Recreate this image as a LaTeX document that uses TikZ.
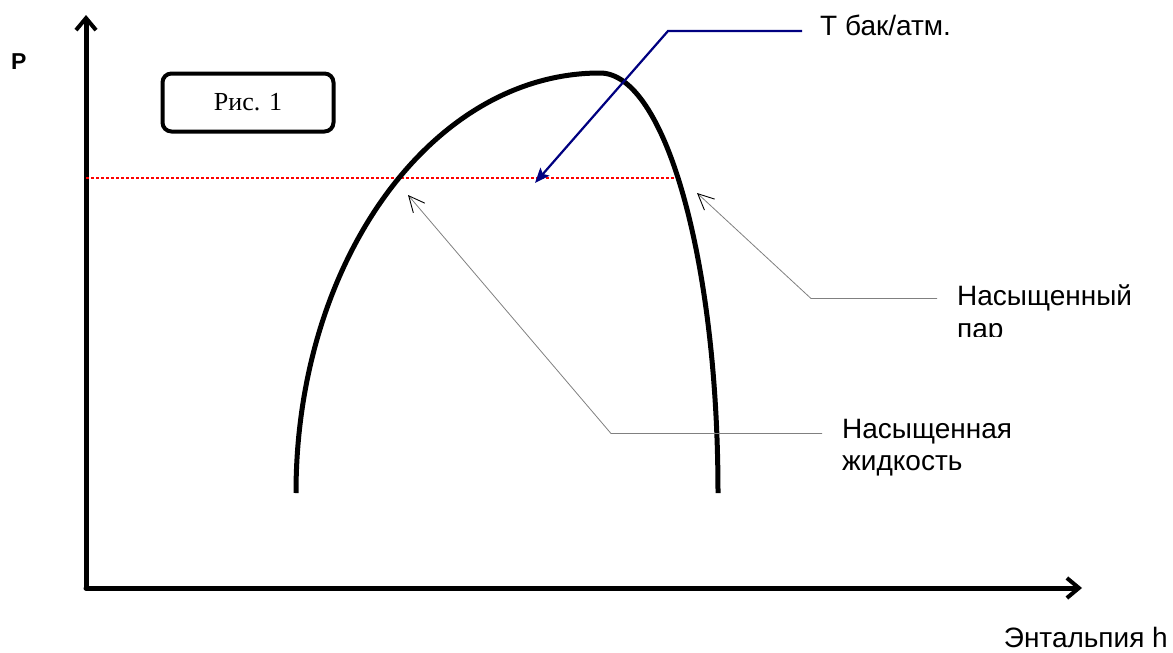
\documentclass[tikz,border=0pt]{standalone}
\usepackage{fontspec}
\setmainfont{Liberation Serif}
\setsansfont{Liberation Sans}
\usetikzlibrary{arrows.meta}
\definecolor{navyline}{RGB}{0,0,128}
\tikzset{
  axis/.style={line width=5pt, line cap=round, -{Straight Barb[length=12pt,width=20pt,line width=4pt]}},
  curve/.style={line width=5pt},
  level/.style={red, line width=2.5pt, dash pattern=on 2.5pt off 2.5pt},
  bluecall/.style={navyline, line width=2.2pt, -{Stealth[length=15pt,width=12pt,inset=3pt]}},
  graycall/.style={gray, line width=0.8pt, -{Straight Barb[length=16pt,width=15pt,line width=0.9pt,black]}},
  lbl/.style={font=\fontsize{28}{32}\selectfont\sffamily, inner sep=0pt, anchor=base west},
}
\begin{document}
\begin{tikzpicture}[x=1pt,y=-1pt]
\useasboundingbox (0,0) rectangle (1173,653);
% axes
\coordinate (O) at (86,588);
\coordinate (ytop) at (86,15);
\coordinate (xend) at (1082,588);
\draw[axis] (O) -- (ytop);
\draw[axis] (O) -- (xend);
\node[font=\fontsize{23}{27}\selectfont\sffamily\bfseries, inner sep=0pt, anchor=base west] (P) at (11,69) {P};
\node[lbl, anchor=base east] (H) at (1168,647) {Энтальпия h};
% figure box
\node[draw, line width=4pt, rounded corners=9pt, minimum width=171pt, minimum height=58pt,
      font=\fontsize{26}{30}\selectfont] (fig) at (248,102.5) {Рис. 1};
% dotted level
\coordinate (L1) at (86,178);
\coordinate (L2) at (680,178);
\draw[level] (L1) -- (L2);
% saturation curve
\coordinate (cl) at (296,493);
\draw[curve] (cl) arc[start angle=180, end angle=270, x radius=304, y radius=420]
  arc[start angle=270, end angle=360, x radius=118, y radius=420];
% T label
\node[lbl] (T) at (820,35) {Т бак/атм.};
\coordinate (Ts) at (802,31);
\coordinate (Tb) at (668,31);
\coordinate (Tt) at (535,183);
\draw[bluecall] (Ts) -- (Tb) -- (Tt);
% vapour
\node[lbl] (V) at (957,305) {Насыщенный};
\begin{scope}
\clip (900,312) rectangle (1173,336.5);
\node[lbl] (V2) at (957,338) {пар};
\end{scope}
\coordinate (Vs) at (937,298.5);
\coordinate (Vb) at (811,298.5);
\coordinate (Vt) at (697,193);
\draw[graycall] (Vs) -- (Vb) -- (Vt);
% liquid
\node[lbl] (Lq) at (842,438) {Насыщенная};
\node[lbl] (Lq2) at (842,470) {жидкость};
\coordinate (Ls) at (822,433.5);
\coordinate (Lb) at (611,433.5);
\coordinate (Lt) at (408,195);
\draw[graycall] (Ls) -- (Lb) -- (Lt);
\end{tikzpicture}
\end{document}
